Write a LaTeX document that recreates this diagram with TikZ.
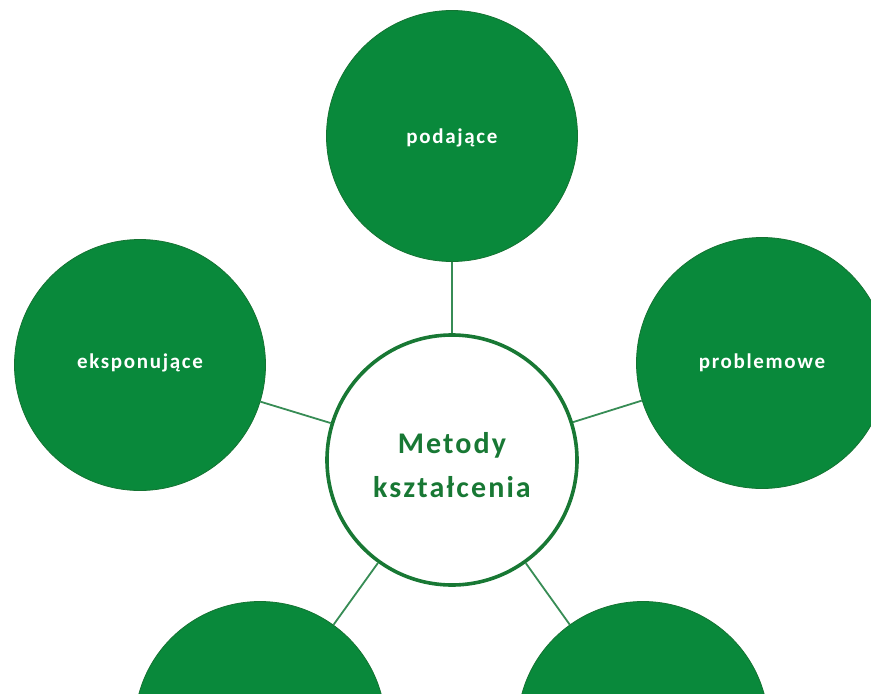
\documentclass[tikz,border=0pt]{standalone}
\usepackage{fontspec}
\setmainfont{Carlito}
\definecolor{mgreen}{RGB}{9,137,59}
\definecolor{mdark}{RGB}{20,115,50}
\definecolor{mline}{RGB}{55,140,85}
\definecolor{mtext}{RGB}{24,120,52}
\begin{document}
\begin{tikzpicture}[x=1pt,y=1pt,
  outer/.style={circle,fill=mgreen,draw=mdark,line width=0.8pt,minimum size=251pt,inner sep=0pt},
  hub/.style={circle,fill=white,draw=mtext,line width=3.6pt,minimum size=250pt,inner sep=0pt},
  link/.style={draw=mline,line width=1.8pt},
  lab/.style={text=white,font=\fontsize{21}{24}\selectfont\bfseries\addfontfeature{LetterSpace=8}},
  hubtext/.style={text=mtext,font=\fontsize{30}{44}\selectfont\bfseries\addfontfeature{LetterSpace=7},align=center}]
\useasboundingbox (0,0) rectangle (871,-694);
\clip (0,0) rectangle (871,-694);
\node[hub] (c) at (452,-460) {};
\node[outer] (t) at (452,-136) {};
\node[outer] (l) at (140,-365) {};
\node[outer] (r) at (762,-363) {};
\node[outer] (bl) at (260,-727) {};
\node[outer] (br) at (643,-727) {};
\draw[link] (c) -- (t);
\draw[link] (c) -- (l);
\draw[link] (c) -- (r);
\draw[link] (c) -- (bl);
\draw[link] (c) -- (br);
\node[lab] (tt) at (452,-138) {podające};
\node[lab] (lt) at (140,-363) {eksponujące};
\node[lab] (rt) at (762,-363) {problemowe};
\node[hubtext] (ct) at (452,-465) {Metody\\kształcenia};
\end{tikzpicture}
\end{document}
